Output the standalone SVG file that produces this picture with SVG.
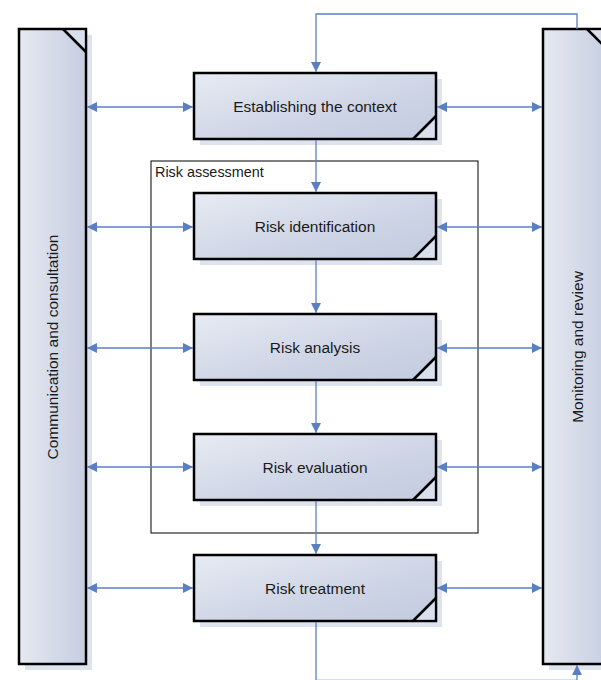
<svg xmlns="http://www.w3.org/2000/svg" width="601" height="680" viewBox="0 0 601 680">
<defs>
<linearGradient id="gBox" x1="0" y1="0" x2="1" y2="1">
<stop offset="0" stop-color="#E8EBF3"/>
<stop offset="0.6" stop-color="#CDD4E5"/>
<stop offset="1" stop-color="#C3CBDF"/>
</linearGradient>
<linearGradient id="gBar" x1="0" y1="0" x2="1" y2="0">
<stop offset="0" stop-color="#E6E9F1"/>
<stop offset="1" stop-color="#C5CDE0"/>
</linearGradient>
<marker id="ah" viewBox="0 0 10 10" refX="10" refY="5" markerWidth="10" markerHeight="10" markerUnits="userSpaceOnUse" orient="auto-start-reverse">
<path d="M0,0 L10,5 L0,10 Z" fill="#5B80C2"/>
</marker>
</defs>
<style>
.sh{fill:#DDE3EF}
.box{fill:url(#gBox);stroke:#000;stroke-width:2.5}
.bar{fill:url(#gBar);stroke:#000;stroke-width:2.5}
.fold{fill:#D9DFEC}
.fl{stroke:#000;stroke-width:2.5;fill:none}
.c{stroke:#5B80C2;stroke-width:1.3;fill:none}
.t{font-family:"Liberation Sans",Arial,sans-serif;font-size:15.5px;fill:#1a1a1a;text-anchor:middle;dominant-baseline:central}
.lbl{font-family:"Liberation Sans",Arial,sans-serif;font-size:14.4px;fill:#1a1a1a}
</style>
<rect x="151" y="161" width="327" height="372" fill="none" stroke="#000" stroke-width="1"/>
<text class="lbl" x="155" y="177">Risk assessment</text>

<g id="comm">
<rect class="sh" x="25" y="35" width="67" height="635"/>
<rect class="bar" x="19" y="29" width="67" height="635"/>
<path class="fold" d="M63,30.5 L84.5,30.5 L84.5,52 Z"/>
<line class="fl" x1="63" y1="29" x2="86" y2="52"/>
<text class="t" transform="translate(52.5,347) rotate(-90)">Communication and consultation</text>
</g>
<g id="monitor">
<rect class="sh" x="549" y="35" width="67" height="635"/>
<rect class="bar" x="543" y="29" width="67" height="635"/>
<path class="fold" d="M587,30.5 L608.5,30.5 L608.5,52 Z"/>
<line class="fl" x1="587" y1="29" x2="610" y2="52"/>
<text class="t" transform="translate(577,347) rotate(-90)">Monitoring and review</text>
</g>

<g id="context">
<rect class="sh" x="200" y="79" width="242" height="66"/>
<rect class="box" x="194" y="73" width="242" height="66"/>
<path class="fold" d="M434.5,118 L434.5,137.5 L413.5,137.5 Z"/>
<line class="fl" x1="436" y1="116" x2="413" y2="139"/>
<text class="t" x="315" y="106">Establishing the context</text>
</g>
<g id="identification">
<rect class="sh" x="200" y="199" width="242" height="66"/>
<rect class="box" x="194" y="193" width="242" height="66"/>
<path class="fold" d="M434.5,238 L434.5,257.5 L413.5,257.5 Z"/>
<line class="fl" x1="436" y1="236" x2="413" y2="259"/>
<text class="t" x="315" y="226">Risk identification</text>
</g>
<g id="analysis">
<rect class="sh" x="200" y="320" width="242" height="66"/>
<rect class="box" x="194" y="314" width="242" height="66"/>
<path class="fold" d="M434.5,359 L434.5,378.5 L413.5,378.5 Z"/>
<line class="fl" x1="436" y1="357" x2="413" y2="380"/>
<text class="t" x="315" y="347">Risk analysis</text>
</g>
<g id="evaluation">
<rect class="sh" x="200" y="440" width="242" height="66"/>
<rect class="box" x="194" y="434" width="242" height="66"/>
<path class="fold" d="M434.5,479 L434.5,498.5 L413.5,498.5 Z"/>
<line class="fl" x1="436" y1="477" x2="413" y2="500"/>
<text class="t" x="315" y="467">Risk evaluation</text>
</g>
<g id="treatment">
<rect class="sh" x="200" y="561" width="242" height="66"/>
<rect class="box" x="194" y="555" width="242" height="66"/>
<path class="fold" d="M434.5,600 L434.5,619.5 L413.5,619.5 Z"/>
<line class="fl" x1="436" y1="598" x2="413" y2="621"/>
<text class="t" x="315" y="588">Risk treatment</text>
</g>

<g id="connectors">
<path class="c" d="M577,29 L577,14 L316,14 L316,72" marker-end="url(#ah)"/>
<path class="c" d="M316,140 L316,192" marker-end="url(#ah)"/>
<path class="c" d="M316,260 L316,313" marker-end="url(#ah)"/>
<path class="c" d="M316,381 L316,433" marker-end="url(#ah)"/>
<path class="c" d="M316,501 L316,554" marker-end="url(#ah)"/>
<path class="c" d="M316,622 L316,680.3 L577,680.3 L577,665" marker-end="url(#ah)"/>
<path class="c" d="M87,107 L193,107" marker-start="url(#ah)" marker-end="url(#ah)"/>
<path class="c" d="M437,107 L542,107" marker-start="url(#ah)" marker-end="url(#ah)"/>
<path class="c" d="M87,227 L193,227" marker-start="url(#ah)" marker-end="url(#ah)"/>
<path class="c" d="M437,227 L542,227" marker-start="url(#ah)" marker-end="url(#ah)"/>
<path class="c" d="M87,348 L193,348" marker-start="url(#ah)" marker-end="url(#ah)"/>
<path class="c" d="M437,348 L542,348" marker-start="url(#ah)" marker-end="url(#ah)"/>
<path class="c" d="M87,467 L193,467" marker-start="url(#ah)" marker-end="url(#ah)"/>
<path class="c" d="M437,467 L542,467" marker-start="url(#ah)" marker-end="url(#ah)"/>
<path class="c" d="M87,588 L193,588" marker-start="url(#ah)" marker-end="url(#ah)"/>
<path class="c" d="M437,588 L542,588" marker-start="url(#ah)" marker-end="url(#ah)"/>
</g>
</svg>
